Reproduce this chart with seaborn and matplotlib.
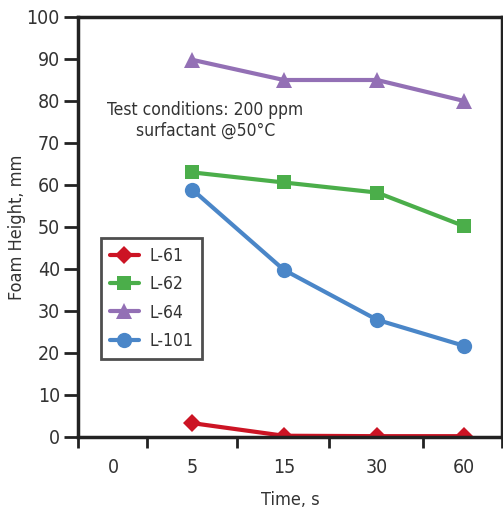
import matplotlib
matplotlib.use("Agg")
import matplotlib.pyplot as plt
import seaborn as sns
import pandas as pd
from matplotlib.ticker import FixedLocator, NullFormatter

categories = ["0", "5", "15", "30", "60"]
times = ["5", "15", "30", "60"]
l61 = [3.3, 0.3, 0.2, 0.2]
l62 = [63.0, 60.6, 58.2, 50.2]
l64 = [89.8, 85.0, 85.0, 80.0]
l101 = [58.9, 39.8, 27.9, 21.7]
series_names = ["L-61", "L-62", "L-64", "L-101"]
colors = ["#CC1424", "#4BAE4A", "#9370B5", "#4A86C8"]
markers = ["D", "s", "^", "o"]
marker_sizes = [9, 10, 11, 11]

# layout: category centre positions and cell boundaries along the x axis
cat_pos = [0.40, 1.30, 2.34, 3.40, 4.39]
cell_edges = [0.0, 0.78, 1.81, 2.85, 3.92, 4.82]

pos = {c: p for c, p in zip(categories, cat_pos)}
rows = []
for name, vals in zip(series_names, [l61, l62, l64, l101]):
    for t, v in zip(times, vals):
        rows.append({"time": pos[t], "height": v, "series": name})
df = pd.DataFrame(rows)

sns.set_theme(style="white")
plt.rcParams['font.family'] = ['DejaVu Sans']
plt.rcParams['font.stretch'] = 'condensed'

fig = plt.figure(figsize=(5.03, 5.13), dpi=100)
ax = fig.add_axes([78/503, 1 - 437/513, (502-78)/503, (437-17)/513])

for name, col, mk, ms in zip(series_names, colors, markers, marker_sizes):
    sub = df[df.series == name]
    sns.lineplot(data=sub, x="time", y="height", ax=ax, color=col, marker=mk,
                 markersize=ms, markeredgewidth=0, linewidth=3, label=name)

ax.set_xlim(cell_edges[0], cell_edges[-1])
ax.set_ylim(0, 100)
ax.set_yticks(range(0, 101, 10))
ax.xaxis.set_major_locator(FixedLocator(cell_edges))
ax.xaxis.set_major_formatter(NullFormatter())
ax.xaxis.set_minor_locator(FixedLocator(cat_pos))
ax.set_xticklabels(categories, minor=True)
ax.tick_params(axis="x", which="major", direction="out", length=8, width=2, color="#222222", bottom=True)
ax.tick_params(axis="x", which="minor", length=0, pad=15, labelsize=14, labelcolor="#333333")
ax.tick_params(axis="y", which="major", direction="out", length=10, width=2, color="#222222", left=True,
               labelsize=14, labelcolor="#333333", pad=3)

for s in ax.spines.values():
    s.set_linewidth(2.5)
    s.set_color("#222222")

ax.set_xlabel("Time, s", fontsize=13, color="#333333", labelpad=10)
ax.set_ylabel("Foam Height, mm", fontsize=13, color="#333333")
ax.yaxis.set_label_coords(-52/424, 0.5)

ax.text(1.45, 75.3, "Test conditions: 200 ppm\nsurfactant @50°C", ha="center", va="center",
        fontsize=12.5, color="#333333", linespacing=1.2)

leg = ax.legend(loc="upper left", bbox_to_anchor=(23/424, (437-238)/420), fontsize=12.5,
                frameon=True, fancybox=False, edgecolor="#222222", handlelength=1.7,
                labelspacing=0.6, borderpad=0.5, handletextpad=0.6, borderaxespad=0)
leg.get_frame().set_linewidth(2)
for t in leg.get_texts():
    t.set_color("#333333")

fig.savefig("out.png", dpi=100)
